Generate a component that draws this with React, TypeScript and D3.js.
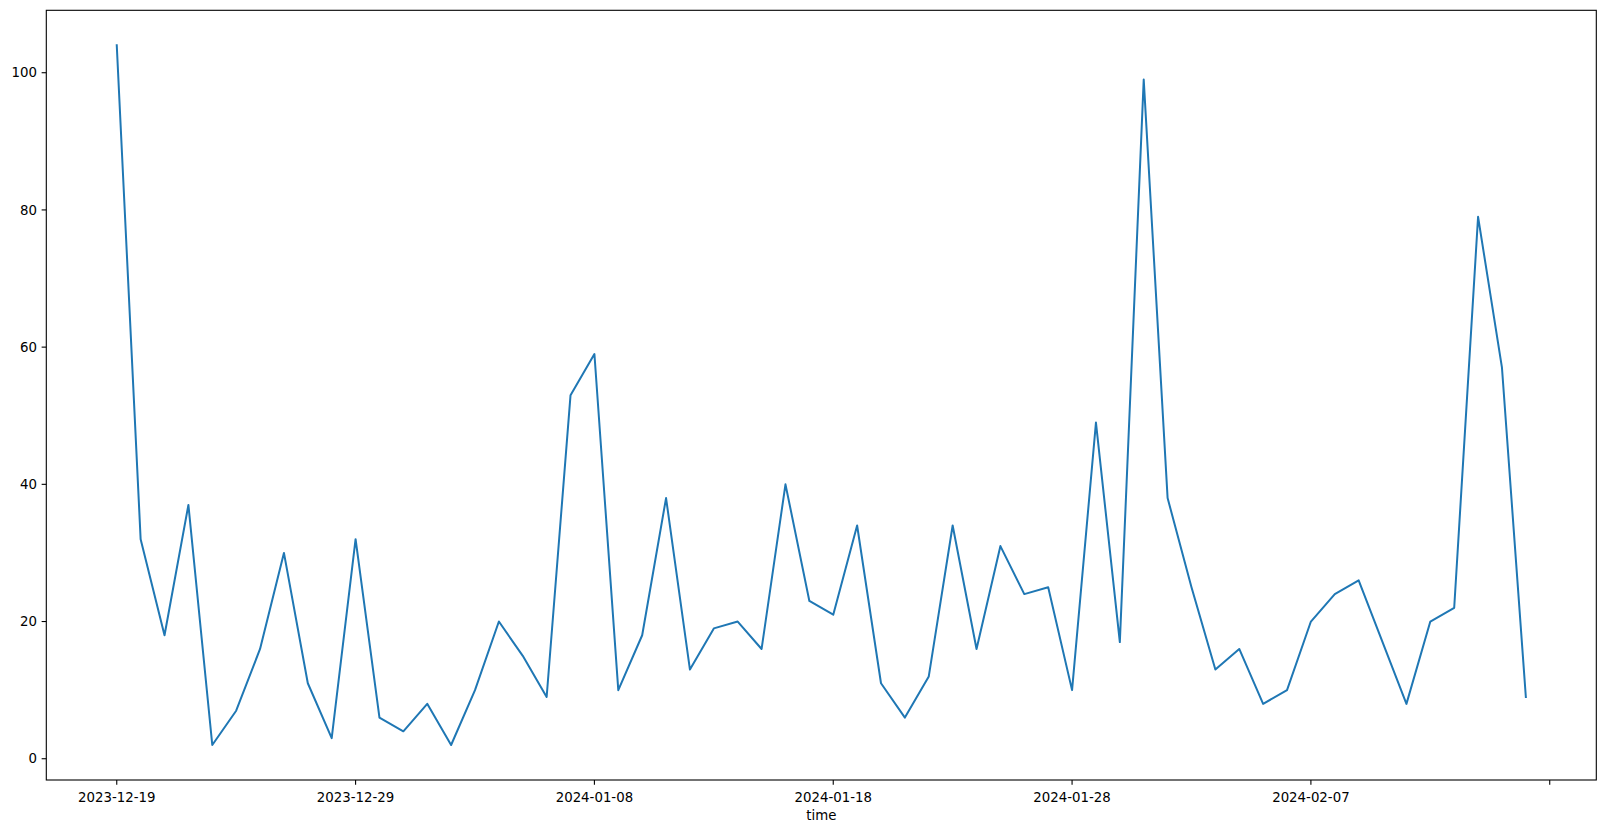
import React from "react";
import * as d3 from "d3";

const dates: string[] = [
  "2023-12-19","2023-12-20","2023-12-21","2023-12-22","2023-12-23","2023-12-24","2023-12-25","2023-12-26","2023-12-27","2023-12-28",
  "2023-12-29","2023-12-30","2023-12-31","2024-01-01","2024-01-02","2024-01-03","2024-01-04","2024-01-05","2024-01-06","2024-01-07",
  "2024-01-08","2024-01-09","2024-01-10","2024-01-11","2024-01-12","2024-01-13","2024-01-14","2024-01-15","2024-01-16","2024-01-17",
  "2024-01-18","2024-01-19","2024-01-20","2024-01-21","2024-01-22","2024-01-23","2024-01-24","2024-01-25","2024-01-26","2024-01-27",
  "2024-01-28","2024-01-29","2024-01-30","2024-01-31","2024-02-01","2024-02-02","2024-02-03","2024-02-04","2024-02-05","2024-02-06",
  "2024-02-07","2024-02-08","2024-02-09","2024-02-11","2024-02-12","2024-02-13","2024-02-14","2024-02-15","2024-02-16",
];

const values: number[] = [
  104, 32, 18, 37, 2, 7, 16, 30, 11, 3,
  32, 6, 4, 8, 2, 10, 20, 15, 9, 53,
  59, 10, 18, 38, 13, 19, 20, 16, 40, 23,
  21, 34, 11, 6, 12, 34, 16, 31, 24, 25,
  10, 49, 17, 99, 38, 25, 13, 16, 8, 10,
  20, 24, 26, 8, 20, 22, 79, 57, 9,
];

const xTicks: string[] = ["2023-12-19", "2023-12-29", "2024-01-08", "2024-01-18", "2024-01-28", "2024-02-07", "2024-02-17"];
const xTickLabels: string[] = ["2023-12-19", "2023-12-29", "2024-01-08", "2024-01-18", "2024-01-28", "2024-02-07", ""];
const yTicks: number[] = [0, 20, 40, 60, 80, 100];
const xLabel = "time";

const W = 1606;
const H = 833;
const L = 46.3, R = 1596.3, T = 10.3, B = 780;
const FONT = "'DejaVu Sans', sans-serif";
const FS = 13.33;
const TICK = 4.67;

export default function App() {
  const parse = d3.utcParse("%Y-%m-%d");
  const pts = dates.map((d, i) => ({ t: parse(d) as Date, v: values[i] }));
  const t0 = pts[0].t.getTime();
  const t1 = pts[pts.length - 1].t.getTime();
  const dm = (t1 - t0) * 0.05;
  const x = d3.scaleUtc().domain([new Date(t0 - dm), new Date(t1 + dm)]).range([L, R]);
  const vmin = d3.min(values) as number;
  const vmax = d3.max(values) as number;
  const vm = (vmax - vmin) * 0.05;
  const y = d3.scaleLinear().domain([vmin - vm, vmax + vm]).range([B, T]);
  const line = d3
    .line<{ t: Date; v: number }>()
    .x((d) => x(d.t))
    .y((d) => y(d.v));

  return (
    <div style={{ position: "absolute", left: 0, top: 0, width: W, height: H, background: "#fff" }}>
      <svg width={W} height={H} style={{ display: "block" }} fontFamily={FONT}>
        <rect x={0} y={0} width={W} height={H} fill="#fff" />
        <path d={line(pts) || ""} fill="none" stroke="#1f77b4" strokeWidth={2} strokeLinejoin="round" strokeLinecap="square" />
        <rect x={L} y={T} width={R - L} height={B - T} fill="none" stroke="#000" strokeWidth={1.1} />
        {yTicks.map((v) => (
          <g key={"y" + v}>
            <line x1={L - TICK} x2={L} y1={y(v)} y2={y(v)} stroke="#000" strokeWidth={1.1} />
            <text x={L - TICK - 4.67} y={y(v)} dy="0.35em" textAnchor="end" fontSize={FS} fill="#000">
              {v}
            </text>
          </g>
        ))}
        {xTicks.map((d, i) => {
          const xx = x(parse(d) as Date);
          return (
            <g key={"x" + d}>
              <line x1={xx} x2={xx} y1={B} y2={B + TICK} stroke="#000" strokeWidth={1.1} />
              <text x={xx} y={B + TICK + 4.67 + 12.5} textAnchor="middle" fontSize={FS} fill="#000">
                {xTickLabels[i]}
              </text>
            </g>
          );
        })}
        <text x={(L + R) / 2} y={820} textAnchor="middle" fontSize={FS} fill="#000">
          {xLabel}
        </text>
      </svg>
    </div>
  );
}
